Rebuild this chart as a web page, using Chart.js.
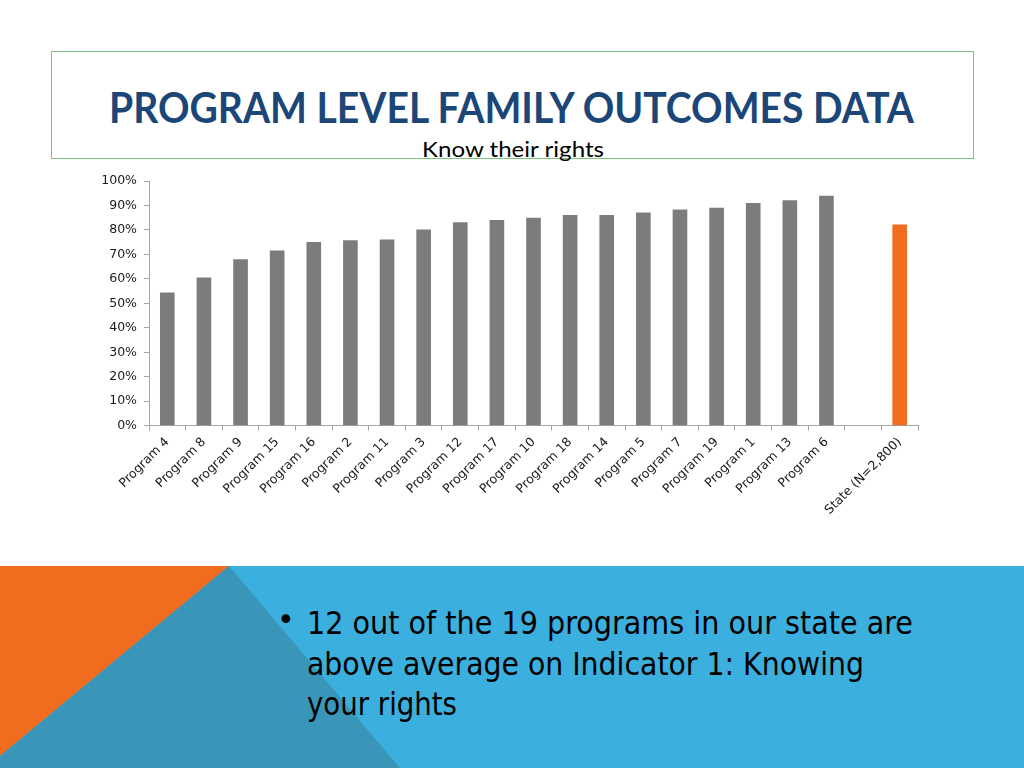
<!DOCTYPE html>
<html>
<head>
<meta charset="utf-8">
<script src="https://cdn.jsdelivr.net/npm/chart.js@4.4.0/dist/chart.umd.min.js"></script>
<style>
  html, body { margin: 0; padding: 0; }
  body { width: 1024px; height: 768px; position: relative; overflow: hidden; background: #fff; }
  .box { position: absolute; left: 51px; top: 51px; width: 921px; height: 106px; border: 1px solid #7cc47c; }
  .t { position: absolute; white-space: nowrap; transform-origin: 0 0; line-height: 1; }
  #title { font-family: Lato, sans-serif; font-weight: bold; font-size: 42px; color: #1b4677; left: 109px; top: 86px; }
  #sub { font-family: Lato, sans-serif; font-size: 21px; color: #000; left: 422px; top: 138px; }
  .bl { font-family: "Liberation Sans Narrow", "DejaVu Sans Condensed", sans-serif; font-size: 32px; color: #000; left: 307px; }
  #bullet { position: absolute; left: 277px; top: 605px; font-family: "DejaVu Sans", sans-serif; font-size: 30px; line-height: 1; }
  #chart { position: absolute; left: 0; top: 160px; }
  svg { position: absolute; left: 0; top: 566px; }
</style>
</head>
<body>
<div class="box"></div>
<div class="t" id="title" data-w="805">PROGRAM LEVEL FAMILY OUTCOMES DATA</div>
<div class="t" id="sub" data-w="182">Know their rights</div>
<canvas id="chart" width="1024" height="400"></canvas>

<svg width="1024" height="202">
  <rect x="0" y="0" width="1024" height="202" fill="#3bb0df"/>
  <polygon points="0,0 229,0 0,190" fill="#f26c20"/>
  <polygon points="229,0 400,202 0,202 0,190" fill="#3a96b8"/>
</svg>
<div id="bullet">•</div>
<div class="t bl" style="top:607px" data-w="606">12 out of the 19 programs in our state are</div>
<div class="t bl" style="top:648px" data-w="557">above average on Indicator 1: Knowing</div>
<div class="t bl" style="top:688px" data-w="150">your rights</div>

<script>
// categories (empty slot before the state bar)
const categorias = ['Program 4', 'Program 8', 'Program 9', 'Program 15', 'Program 16', 'Program 2',
    'Program 11', 'Program 3', 'Program 12', 'Program 17', 'Program 10', 'Program 18', 'Program 14',
    'Program 5', 'Program 7', 'Program 19', 'Program 1', 'Program 13', 'Program 6', '', 'State (N=2,800)'];
// percent of families who know their rights
const valores = [54.4, 60.6, 68.0, 71.6, 75.1, 75.8, 76.1, 80.2, 83.1, 84.1,
    85.0, 86.1, 86.1, 87.1, 88.4, 89.1, 91.0, 92.1, 94.0, null, 82.2];
const yTicks = [0, 10, 20, 30, 40, 50, 60, 70, 80, 90, 100];

const cinza = '#7b7d7d';
const laranja = '#f26c20';
const corEixo = '#a6a6a6';

Chart.defaults.font.family = 'DejaVu Sans';
Chart.defaults.font.size = 12.5;
Chart.defaults.color = '#1a1a1a';

new Chart(document.getElementById('chart'), {
    type: 'bar',
    data: {
        labels: categorias,
        datasets: [{
            data: valores,
            backgroundColor: ctx => categorias[ctx.dataIndex].startsWith('State') ? laranja : cinza,
            barPercentage: 0.8,
            categoryPercentage: 0.5
        }]
    },
    options: {
        responsive: false,
        animation: false,
        layout: { padding: { top: 21, right: 106, left: 0, bottom: 0 } },
        plugins: { legend: { display: false }, tooltip: { enabled: false } },
        scales: {
            x: {
                grid: { display: true, drawOnChartArea: false, drawTicks: true, tickLength: 5, color: corEixo, offset: true },
                border: { display: true, color: corEixo },
                ticks: { minRotation: 45, maxRotation: 45, autoSkip: false, padding: 4 },
                afterFit: s => { s.height = 134.3; }
            },
            y: {
                min: 0,
                max: 100,
                afterBuildTicks: s => { s.ticks = yTicks.map(v => ({ value: v })); },
                grid: { display: true, drawOnChartArea: false, drawTicks: true, tickLength: 5, color: corEixo },
                border: { display: true, color: corEixo },
                ticks: { callback: v => v + '%', padding: 7 },
                afterFit: s => { s.width = 149; }
            }
        }
    }
});

// stretch text blocks to their widths
document.fonts.ready.then(() => {
    document.querySelectorAll('.t').forEach(el => {
        const w = el.getBoundingClientRect().width;
        el.style.transform = 'scaleX(' + (parseFloat(el.dataset.w) / w) + ')';
    });
});
</script>
</body>
</html>
